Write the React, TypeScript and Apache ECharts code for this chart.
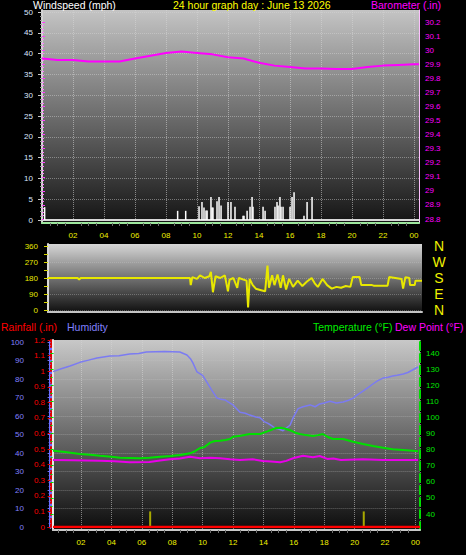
import React, { useEffect, useRef } from 'react';
import * as echarts from 'echarts';

// ---------- data ----------
const hourTicks = ['02', '04', '06', '08', '10', '12', '14', '16', '18', '20', '22', '00'];

const windSpeed: number[][] = [
  [0.17, 3.1], [8.75, 2.2], [9.27, 2.2], [10.13, 3.3], [10.32, 4.3], [10.45, 3.0], [10.58, 2.3],
  [10.65, 2.3], [10.9, 5.5], [10.97, 3.0], [11.03, 3.0], [11.29, 4.5], [11.42, 5.5], [11.55, 3.5],
  [12.0, 4.3], [12.19, 4.3], [12.45, 3.2], [12.97, 1.0], [13.03, 1.0], [13.23, 2.2], [13.42, 3.2],
  [13.55, 5.5], [13.61, 3.2], [14.26, 3.2], [14.39, 2.2], [15.03, 3.2], [15.16, 4.3], [15.23, 3.5],
  [15.35, 5.5], [15.42, 3.2], [15.55, 3.2], [16.0, 3.2], [16.13, 5.5], [16.26, 6.7], [16.9, 1.0],
  [17.1, 4.3], [17.42, 5.5],
];

const barometer: number[][] = [
  [0, 29.94], [1, 29.93], [2, 29.93], [3, 29.92], [4, 29.92], [5, 29.92], [6, 29.94], [7, 29.96],
  [8, 29.98], [9, 29.99], [10, 29.98], [11, 29.97], [12, 29.95], [13, 29.94], [14, 29.91],
  [15, 29.89], [16, 29.88], [17, 29.87], [18, 29.87], [19, 29.866], [20, 29.866], [21, 29.88],
  [22, 29.89], [23, 29.895], [24, 29.9], [24.32, 29.9],
];

const windDirection: number[][] = [
  [0.39, 180], [2.3, 180], [2.4, 172], [2.5, 180], [9.55, 180], [9.6, 140], [9.7, 185], [10.0, 175],
  [10.2, 195], [10.5, 180], [10.8, 190], [10.9, 215], [11.03, 100], [11.2, 190], [11.5, 180],
  [11.8, 195], [12.0, 105], [12.1, 170], [12.35, 180], [12.6, 125], [12.7, 180], [13.2, 165],
  [13.3, 15], [13.4, 175], [13.6, 140], [13.8, 120], [14.2, 110], [14.4, 105], [14.55, 250],
  [14.65, 125], [14.85, 195], [15.0, 140], [15.2, 200], [15.4, 125], [15.55, 195], [15.75, 115],
  [15.95, 175], [16.2, 130], [16.5, 165], [16.8, 135], [17.1, 160], [17.4, 180], [17.6, 150],
  [17.8, 130], [18.1, 175], [18.4, 140], [18.7, 120], [19.0, 130], [19.3, 125], [19.6, 135],
  [19.9, 130], [20.05, 185], [20.5, 185], [20.6, 140], [21.3, 140], [21.4, 137], [22.3, 137],
  [22.4, 185], [22.8, 180], [23.2, 175], [23.3, 120], [23.45, 185], [23.7, 180], [23.75, 140],
  [24.05, 140], [24.1, 165], [24.52, 165],
];

const humidity: number[][] = [
  [0.16, 84], [0.7, 85.5], [1.28, 87], [1.93, 89], [2.5, 90.2], [3.05, 91.4], [3.9, 92.4], [4.5, 92.6],
  [5.2, 93.5], [5.8, 93.8], [6.3, 94.6], [7.5, 94.8], [8.5, 94.6], [8.97, 93], [9.2, 91], [9.37, 88.6],
  [9.63, 83.8], [10.0, 82], [10.3, 78], [10.6, 74], [10.95, 69.7], [11.2, 69], [11.5, 68.6],
  [11.7, 67.5], [12.0, 66], [12.46, 62], [12.8, 61.5], [13.1, 60.5], [13.5, 59.5], [13.78, 59],
  [14.05, 57], [14.3, 56], [14.5, 55], [14.76, 53.5], [15.0, 53], [15.29, 52], [15.5, 53.5],
  [15.75, 55], [15.95, 59], [16.28, 64], [16.6, 65], [17.07, 66], [17.4, 65], [17.7, 66.5], [18.0, 67],
  [18.38, 68], [18.8, 67], [19.24, 67.6], [19.6, 68.5], [19.9, 69.7], [20.2, 71.5], [20.55, 73.5],
  [20.9, 75.5], [21.2, 77.3], [21.5, 79], [21.87, 80.5], [22.2, 81], [22.5, 81.6], [22.8, 82],
  [23.2, 82.7], [23.5, 83.5], [23.84, 85], [24.17, 86.5],
];

const temperature: number[][] = [
  [0.16, 79.3], [0.95, 78.5], [1.93, 77.3], [2.6, 76.8], [3.25, 76.2], [4.0, 75.6], [4.57, 75],
  [5.2, 74.8], [5.88, 74.6], [6.5, 75], [7.2, 75.6], [7.9, 76], [8.5, 76.6], [9.17, 77.7], [9.5, 79],
  [9.83, 81], [10.1, 81.5], [10.5, 84.3], [10.8, 85.3], [11.15, 85.5], [11.5, 86], [11.8, 86.6],
  [12.0, 88], [12.5, 88.6], [13.1, 89.7], [13.78, 89.7], [14.3, 91.5], [14.83, 93.4], [15.2, 93.5],
  [15.49, 92.8], [15.75, 92], [16.1, 90.5], [16.4, 89.7], [16.8, 89], [17.26, 88.4], [17.6, 89],
  [17.9, 89.7], [18.2, 88], [18.57, 86.6], [19.24, 86.6], [19.9, 84.9], [20.55, 83.5], [21.2, 82.2],
  [21.87, 81.2], [22.5, 80.2], [23.2, 79.8], [23.84, 79.3], [24.17, 79],
];

const dewPoint: number[][] = [
  [0.16, 73.5], [1.5, 73.4], [3.25, 73.1], [4.2, 72.8], [5.2, 72.1], [6.5, 72.3], [7.2, 73.2],
  [7.86, 74], [8.5, 74.5], [9.17, 75.6], [9.83, 74.6], [10.5, 75], [11.15, 74.6], [11.8, 74],
  [12.46, 73.5], [13.3, 74], [13.96, 72.9], [14.5, 72.6], [15.1, 72.1], [15.5, 73], [15.95, 74.6],
  [16.6, 76.2], [17.26, 75.2], [17.7, 76], [18.2, 74.2], [18.6, 74.5], [19.1, 73.5], [20.55, 74],
  [21.87, 73.5], [23.0, 73.5], [24.17, 73.5],
];

const rainfall: number[][] = [[0.16, 0], [24.3, 0]];
const rainEvents: number[][] = [[6.55, 0.1], [20.6, 0.1]];

const compass: Record<number, string> = { 0: 'N', 90: 'E', 180: 'S', 270: 'W', 360: 'N' };

// ---------- helpers ----------
const FONT = '"Liberation Sans", Arial, sans-serif';
const TITLE_FONT = `10.5px ${FONT}`;
const hourLabel = (v: number) => {
  const r = Math.round(v);
  if (Math.abs(v - r) > 1e-6 || r <= 0 || r % 2) return '';
  return hourTicks[r / 2 - 1] ?? '';
};
const trimNum = (v: number) => String(+v.toFixed(1));
const grad = (a: string, b: string, c: string) =>
  new echarts.graphic.LinearGradient(0, 0, 0, 1, [
    { offset: 0, color: a },
    { offset: 0.5, color: b },
    { offset: 1, color: c },
  ]);
const dotted = (color: string) => ({ show: true, lineStyle: { color, type: 'dotted' as const, width: 1 } });
const hiddenX = (gridIndex: number, min: number, max: number) => ({
  type: 'value', gridIndex, min, max, show: false,
});
const hiddenY = (gridIndex: number) => ({ type: 'value', gridIndex, min: 0, max: 1, show: false });

export default function App() {
  const ref = useRef<HTMLDivElement>(null);
  useEffect(() => {
    if (!ref.current) return;
    const chart = echarts.init(ref.current, undefined, { renderer: 'svg' });
    const frameLine = (color: string, width = 2, type: any = 'solid') => ({
      show: true, lineStyle: { color, width, type },
    });
    const noBits = { axisLabel: { show: false }, axisTick: { show: false }, splitLine: { show: false } };

    const option: any = {
      animation: false,
      backgroundColor: '#000000',
      textStyle: { fontFamily: FONT },
      grid: [
        { left: 42, top: 10, width: 377, height: 213, show: true, borderWidth: 0, z: 0,
          backgroundColor: grad('#c4c4c4', '#6c6c6c', '#141414') },
        { left: 42, top: 12, width: 377, height: 208 },
        { left: 42, top: 22, width: 377, height: 197 },
        { left: 48, top: 244, width: 374, height: 68, show: true, borderWidth: 0, z: 0,
          backgroundColor: grad('#d6d6d6', '#727272', '#101010') },
        { left: 48, top: 246, width: 374, height: 64 },
        { left: 53, top: 340, width: 367, height: 190, show: true, borderWidth: 0, z: 0,
          backgroundColor: grad('#c8c8c8', '#6a6a6a', '#0c0c0c') },
        { left: 50.6, top: 340, width: 369.4, height: 190 },
        { left: 50.6, top: 342, width: 369.4, height: 185 },
        { left: 50.6, top: 340, width: 369.4, height: 187 },
        { left: 50.6, top: 353, width: 369.4, height: 161 },
      ],
      xAxis: [
        { type: 'value', gridIndex: 0, min: 0, max: 24.32, interval: 2, z: 1,
          axisLine: frameLine('#9ee89e', 2),
          axisLabel: { show: false },
          axisTick: { show: false },
          minorTick: { show: true, splitNumber: 4, length: 3, lineStyle: { color: '#707070' } },
          splitLine: dotted('rgba(215,215,215,0.55)') },
        { type: 'value', gridIndex: 1, min: 0, max: 24.32, interval: 2, z: 1,
          axisLine: frameLine('#d8d8d8', 2),
          axisTick: { show: false }, splitLine: { show: false },
          axisLabel: { color: '#f0f000', fontSize: 8, margin: 11, fontFamily: FONT, formatter: hourLabel } },
        hiddenX(2, 0, 24.32),
        { type: 'value', gridIndex: 3, min: 0, max: 1, z: 1, axisLine: frameLine('#c4c4c4', 2), ...noBits },
        hiddenX(4, 0.39, 24.52),
        { type: 'value', gridIndex: 5, min: 0, max: 1, z: 1, axisLine: frameLine('#c8c8c8', 2), ...noBits },
        { type: 'value', gridIndex: 6, min: 0, max: 24.3, interval: 2, z: 1,
          axisLine: { show: false },
          axisTick: { show: false },
          minorTick: { show: true, splitNumber: 4, length: 3, lineStyle: { color: '#707070' } },
          splitLine: dotted('rgba(215,215,215,0.55)'),
          axisLabel: { color: '#f0f000', fontSize: 8, margin: 8, fontFamily: FONT, formatter: hourLabel } },
        hiddenX(7, 0, 24.3),
        hiddenX(8, 0, 24.3),
        hiddenX(9, 0, 24.3),
      ],
      yAxis: [
        { type: 'value', gridIndex: 0, min: 0, max: 1, z: 1, axisLine: frameLine('#d4d4d4', 2), ...noBits },
        { type: 'value', gridIndex: 0, min: 0, max: 1, z: 1, position: 'right',
          axisLine: frameLine('#ffc0ff', 1), ...noBits },
        { type: 'value', gridIndex: 1, min: 0, max: 50, interval: 5, z: 1,
          axisLine: { show: false },
          axisTick: { show: true, length: 4, lineStyle: { color: '#c8c8c8' } },
          minorTick: { show: true, splitNumber: 5, length: 2, lineStyle: { color: '#a0a0a0' } },
          splitLine: dotted('rgba(215,215,215,0.45)'),
          axisLabel: { color: '#dce6ff', fontSize: 8, margin: 9, fontFamily: FONT } },
        { type: 'value', gridIndex: 2, min: 28.8, max: 30.2, interval: 0.1, position: 'right', z: 1,
          axisLine: { show: false },
          axisTick: { show: true, length: 3, lineStyle: { color: '#ff40ff' } },
          minorTick: { show: true, splitNumber: 4, length: 2, lineStyle: { color: '#ff80ff' } },
          splitLine: { show: false },
          axisLabel: { color: '#ff00ff', fontSize: 8, margin: 6, fontFamily: FONT, formatter: trimNum } },
        { type: 'value', gridIndex: 3, min: 0, max: 1, z: 1, axisLine: frameLine('#d8d8d8', 2), ...noBits },
        { type: 'value', gridIndex: 4, min: 0, max: 360, interval: 90, z: 1,
          axisLine: { show: false },
          axisTick: { show: true, length: 4, lineStyle: { color: '#d8d800', width: 1 } },
          minorTick: { show: true, splitNumber: 2, length: 4, lineStyle: { color: '#d8d800' } },
          splitLine: dotted('rgba(200,200,200,0.35)'),
          axisLabel: { color: '#e8e800', fontSize: 8, margin: 10, fontFamily: FONT } },
        { type: 'value', gridIndex: 4, min: 0, max: 360, interval: 90, position: 'right', z: 1,
          axisLine: { show: false }, axisTick: { show: false }, splitLine: { show: false },
          axisLabel: { color: '#f0f000', fontSize: 14, margin: 17, align: 'center', fontFamily: FONT,
            formatter: (v: number) => compass[Math.round(v)] ?? '' } },
        { type: 'value', gridIndex: 5, min: 0, max: 1, z: 1, axisLine: frameLine('#e8e8e8', 2), ...noBits },
        { type: 'value', gridIndex: 5, min: 0, max: 1, z: 1, position: 'right',
          axisLine: frameLine('#00e000', 2, 'dashed'), ...noBits },
        hiddenY(6),
        { type: 'value', gridIndex: 7, min: 0, max: 100, interval: 10, offset: 20.6, z: 1,
          axisLine: { show: true, lineStyle: { color: '#6c6cff', width: 3 } },
          axisTick: { show: true, length: 3, lineStyle: { color: '#7070ff' } },
          minorTick: { show: true, splitNumber: 5, length: 2, lineStyle: { color: '#7070ff' } },
          splitLine: dotted('rgba(200,200,200,0.4)'),
          axisLabel: { color: '#8080ff', fontSize: 8, margin: 6, fontFamily: FONT } },
        { type: 'value', gridIndex: 8, min: 0, max: 1.2, interval: 0.1, offset: 0.6, z: 1,
          axisLine: { show: true, lineStyle: { color: '#e00000', width: 2, type: 'dashed' } },
          axisTick: { show: true, length: 3, lineStyle: { color: '#e00000' } },
          splitLine: { show: false },
          axisLabel: { color: '#ff0000', fontSize: 8, margin: 5, fontFamily: FONT, formatter: trimNum } },
        { type: 'value', gridIndex: 9, min: 40, max: 140, interval: 10, position: 'right', z: 1,
          axisLine: { show: false },
          axisTick: { show: true, length: 3, lineStyle: { color: '#00e000' } },
          minorTick: { show: true, splitNumber: 2, length: 2, lineStyle: { color: '#00e000' } },
          splitLine: { show: false },
          axisLabel: { color: '#00e800', fontSize: 8, margin: 6, fontFamily: FONT } },
      ],
      series: [
        { type: 'bar', name: 'Windspeed', xAxisIndex: 1, yAxisIndex: 2, data: windSpeed,
          barWidth: 1.5, itemStyle: { color: '#ffffff' } },
        { type: 'line', name: 'Barometer', xAxisIndex: 2, yAxisIndex: 3, data: barometer,
          showSymbol: false, symbol: 'none', lineStyle: { color: '#ff00ff', width: 2 } },
        { type: 'line', name: 'Wind direction', xAxisIndex: 4, yAxisIndex: 5, data: windDirection,
          showSymbol: false, symbol: 'none', lineStyle: { color: '#e8e800', width: 2 } },
        { type: 'line', name: 'Humidity', xAxisIndex: 7, yAxisIndex: 10, data: humidity,
          showSymbol: false, symbol: 'none', lineStyle: { color: '#7b7bf2', width: 1.5 } },
        { type: 'line', name: 'Rainfall', xAxisIndex: 8, yAxisIndex: 11, data: rainfall,
          showSymbol: false, symbol: 'none', lineStyle: { color: '#ff0000', width: 2.5 } },
        { type: 'bar', name: 'Rain events', xAxisIndex: 8, yAxisIndex: 11, data: rainEvents,
          barWidth: 2, itemStyle: { color: '#a8a800' } },
        { type: 'line', name: 'Temperature', xAxisIndex: 9, yAxisIndex: 12, data: temperature,
          showSymbol: false, symbol: 'none', lineStyle: { color: '#00e000', width: 2 } },
        { type: 'line', name: 'Dew Point', xAxisIndex: 9, yAxisIndex: 12, data: dewPoint,
          showSymbol: false, symbol: 'none', lineStyle: { color: '#e800e8', width: 2 } },
      ],
      graphic: [
        { type: 'text', x: 33, y: 5, style: { text: 'Windspeed (mph)', fill: '#ffffff', font: TITLE_FONT, verticalAlign: 'middle' } },
        { type: 'text', x: 173, y: 5, style: { text: '24 hour graph day : June 13 2026', fill: '#ffff00', font: TITLE_FONT, verticalAlign: 'middle' } },
        { type: 'text', x: 371, y: 5, style: { text: 'Barometer (.in)', fill: '#ff00ff', font: TITLE_FONT, verticalAlign: 'middle' } },
        { type: 'text', x: 1, y: 327, style: { text: 'Rainfall (.in)', fill: '#ff0000', font: TITLE_FONT, verticalAlign: 'middle' } },
        { type: 'text', x: 67, y: 327, style: { text: 'Humidity', fill: '#8080ff', font: TITLE_FONT, verticalAlign: 'middle' } },
        { type: 'text', x: 313, y: 327, style: { text: 'Temperature (°F)', fill: '#00ee00', font: TITLE_FONT, verticalAlign: 'middle' } },
        { type: 'text', x: 395, y: 327, style: { text: 'Dew Point (°F)', fill: '#ff00ff', font: TITLE_FONT, verticalAlign: 'middle' } },
      ],
    };
    chart.setOption(option);
    return () => chart.dispose();
  }, []);
  return (
    <div
      ref={ref}
      style={{ position: 'absolute', left: 0, top: 0, width: 466, height: 555, background: '#000' }}
    />
  );
}
